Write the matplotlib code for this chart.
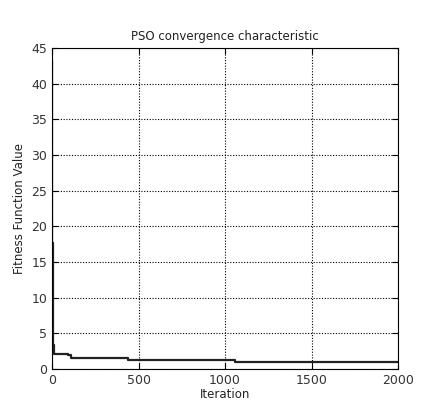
import matplotlib
matplotlib.use('Agg')
import matplotlib.pyplot as plt

# Data (best fitness, step breakpoints)
iterations = [0, 1, 5, 12, 90, 110, 440, 1060, 2000]
fitness = [43.0, 17.6, 3.4, 2.1, 2.0, 1.5, 1.2, 1.0, 1.0]

fig = plt.figure(figsize=(4.46, 4.07), dpi=100)
ax = fig.add_axes([52 / 446, 1 - 369 / 407, 346 / 446, 321 / 407])

ax.plot(iterations, fitness, color='#222222', linewidth=1.6, drawstyle='steps-post')

ax.set_xlim(0, 2000)
ax.set_ylim(0, 45)
ax.set_xticks([0, 500, 1000, 1500, 2000])
ax.set_yticks(range(0, 50, 5))

ax.set_title('PSO convergence characteristic', fontsize=8.5, pad=6, color='#222222')
ax.set_xlabel('Iteration', fontsize=8.5, labelpad=1, color='#222222')
ax.set_ylabel('Fitness Function Value', fontsize=8.5, labelpad=4, color='#222222')

# Grid lines
ax.grid(True, color='black', linestyle=(0, (1, 1.5)), linewidth=0.8)
ax.tick_params(direction='in', top=True, right=True, labelsize=9, length=4,
               labelcolor='#333333')
for s in ax.spines.values():
    s.set_linewidth(0.8)

fig.savefig('out.png', dpi=100)
